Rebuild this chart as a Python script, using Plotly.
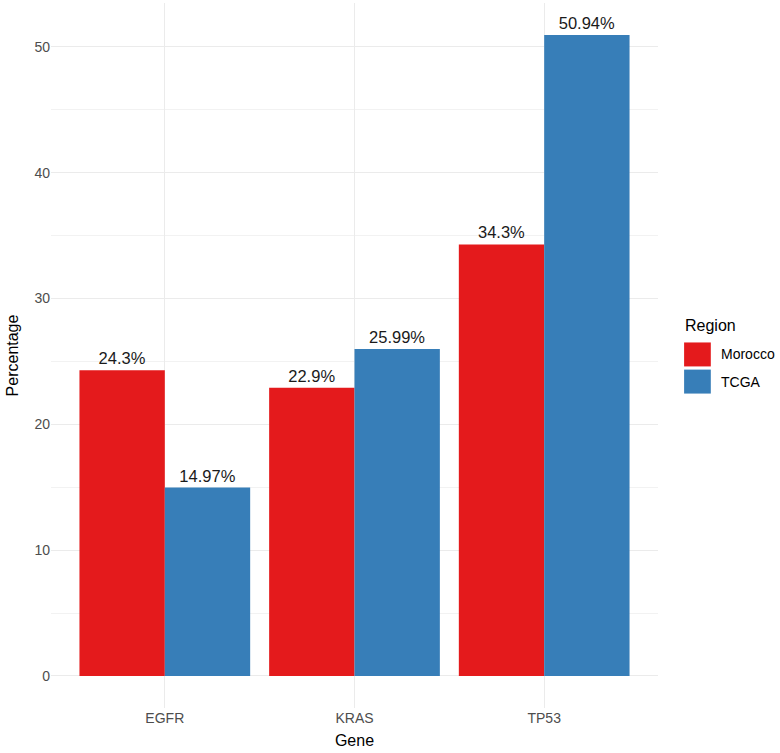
import plotly.graph_objects as go

genes = ["EGFR", "KRAS", "TP53"]
morocco = [24.3, 22.9, 34.3]
tcga = [14.97, 25.99, 50.94]
regions = ["Morocco", "TCGA"]
colors = ["#E41A1C", "#377EB8"]
y_ticks = [0, 10, 20, 30, 40, 50]

FONT = "Liberation Sans, Arial"

fig = go.Figure()
for name, vals, col in zip(regions, [morocco, tcga], colors):
    fig.add_trace(go.Bar(
        x=genes, y=vals, name=name, marker=dict(color=col, line=dict(width=0)),
        text=[f"{v}%" for v in vals], textposition="outside",
        textfont=dict(family=FONT, size=16.5, color="#1a1a1a"),
        cliponaxis=False, showlegend=False,
    ))

ymax = max(morocco + tcga)
fig.update_layout(
    width=780, height=753,
    paper_bgcolor="white", plot_bgcolor="white",
    barmode="group", bargap=0.1, bargroupgap=0,
    margin=dict(l=51, r=122, t=3, b=45),
    font=dict(family=FONT, color="#4D4D4D", size=14),
    xaxis=dict(
        range=[-0.6, 2.6], showgrid=True, gridcolor="#EBEBEB", gridwidth=1,
        zeroline=False, showline=False, ticks="", automargin=False,
        tickfont=dict(size=14, color="#4D4D4D"),
        title=dict(text="Gene", font=dict(size=16, color="#000000"), standoff=9),
    ),
    yaxis=dict(
        range=[-0.05 * ymax, 1.05 * ymax], tickvals=y_ticks,
        showgrid=True, gridcolor="#EBEBEB", gridwidth=1,
        minor=dict(dtick=5, tick0=5, showgrid=True, gridcolor="#F2F2F2", gridwidth=0.6),
        zeroline=False, showline=False, ticks="", automargin=False,
        tickfont=dict(size=14, color="#4D4D4D"),
        title=dict(text="Percentage", font=dict(size=16, color="#000000"), standoff=11),
    ),
)

# legend drawn manually to mimic ggplot key boxes
fig.add_annotation(x=1.041, y=0.5426, xref="paper", yref="paper", text="Region",
                   showarrow=False, xanchor="left", yanchor="middle",
                   font=dict(size=16, color="#000000"))
sw_top = [0.5185, 0.480]
for i, (name, col) in enumerate(zip(regions, colors)):
    fig.add_shape(type="rect", xref="paper", yref="paper",
                  x0=1.043, x1=1.087, y0=sw_top[i] - 0.034, y1=sw_top[i],
                  fillcolor=col, line=dict(width=0))
    fig.add_annotation(x=1.101, y=sw_top[i] - 0.017, xref="paper", yref="paper",
                       text=name, showarrow=False, xanchor="left", yanchor="middle",
                       font=dict(size=14, color="#000000"))

fig.write_html("out.html", config={"displayModeBar": False},
               post_script="document.body.style.margin='0';")
